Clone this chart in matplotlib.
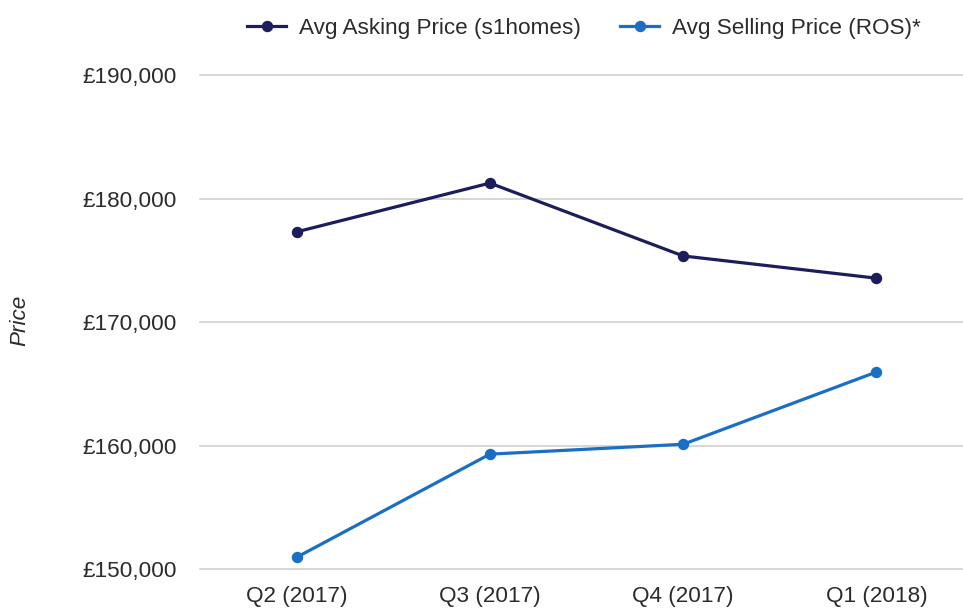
import matplotlib
matplotlib.use("Agg")
import matplotlib.pyplot as plt
from matplotlib.ticker import FuncFormatter

plt.rcParams['font.family'] = ['Liberation Sans', 'DejaVu Sans']

quarters = ["Q2 (2017)", "Q3 (2017)", "Q4 (2017)", "Q1 (2018)"]
asking_price = [177300, 181250, 175350, 173550]
selling_price = [150950, 159300, 160100, 165950]
y_ticks = [150000, 160000, 170000, 180000, 190000]

navy = "#1b1d5c"
blue = "#1a6fc4"
text_col = "#2b2b2b"
fs = 16.2

fig = plt.figure(figsize=(9.63, 6.10), dpi=100)
ax = fig.add_axes([0.2077, 0.0672, 0.8027, 0.8098])

x = range(len(quarters))
ax.plot(x, asking_price, color=navy, lw=2.3, marker="o", ms=7.2,
        label="Avg Asking Price (s1homes)", clip_on=False, zorder=3)
ax.plot(x, selling_price, color=blue, lw=2.3, marker="o", ms=7.2,
        label="Avg Selling Price (ROS)*", clip_on=False, zorder=3)

ax.set_xlim(-0.5, len(quarters) - 0.5)
ax.set_ylim(150000, 190000)
ax.set_yticks(y_ticks)
ax.yaxis.set_major_formatter(FuncFormatter(lambda v, p: "£{:,.0f}".format(v)))
ax.set_xticks(list(x))
ax.set_xticklabels(quarters)
ax.grid(axis="y", color="#d0d0d0", lw=1.2)
for g in ax.get_ygridlines():
    g.set_clip_on(False)
ax.set_axisbelow(True)
for s in ax.spines.values():
    s.set_visible(False)
ax.tick_params(length=0, labelsize=fs, colors=text_col)
ax.tick_params(axis="y", pad=17)
ax.tick_params(axis="x", pad=12)

fig.text(0.021, 0.474, "Price", rotation=90, style="italic", fontsize=fs,
         color=text_col, ha="center", va="center")

fig.legend(loc="center", bbox_to_anchor=(0.606, 0.953), ncol=2, frameon=False,
           fontsize=fs, labelcolor=text_col, handlelength=1.75,
           columnspacing=1.75, handletextpad=0.55)

fig.savefig("out.png", dpi=100)
